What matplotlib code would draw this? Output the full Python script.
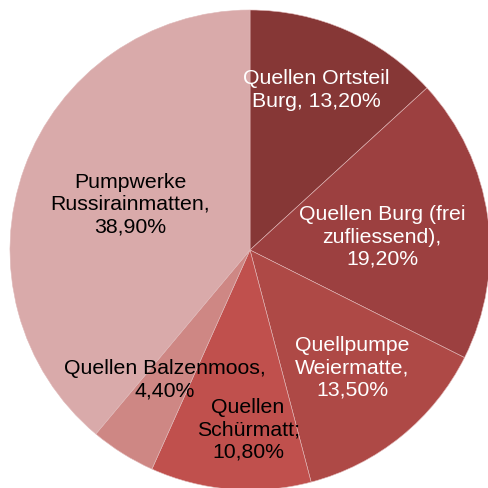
import matplotlib.pyplot as plt

names = ["Quellen Ortsteil\nBurg", "Quellen Burg (frei\nzufliessend)", "Quellpumpe\nWeiermatte",
         "Quellen\nSchürmatt", "Quellen Balzenmoos", "Pumpwerke\nRussirainmatten"]
seps = [", ", ",\n", ",\n", ";\n", ",\n", ",\n"]
shares = [13.20, 19.20, 13.50, 10.80, 4.40, 38.90]
colors = ["#863736", "#9c4040", "#ae4946", "#c0504d", "#ce8784", "#d9aaaa"]
text_colors = ["white", "white", "white", "black", "black", "black"]
label_pos = [(0.275, 0.667), (0.55, 0.054), (0.425, -0.49), (-0.008, -0.75), (-0.354, -0.54), (-0.5, 0.19)]

plt.rcParams['font.family'] = ['Liberation Sans', 'DejaVu Sans']
fig = plt.figure(figsize=(4.88, 4.88), dpi=100)
ax = fig.add_axes([0, 0, 1, 1])
r = 240
ax.pie(shares, colors=colors, startangle=90, counterclock=False, radius=1,
       wedgeprops=dict(edgecolor="#e0b8b8", linewidth=0.4))
for name, sep, v, c, (x, y) in zip(names, seps, shares, text_colors, label_pos):
    txt = name + sep + f"{v:.2f}%".replace(".", ",")
    ax.text(x, y, txt, ha="center", va="center", color=c, fontsize=15.3, linespacing=1.22)
ax.set_xlim(-250 / r, 238 / r)
ax.set_ylim(-238 / r, 250 / r)
ax.set_aspect("equal")
ax.axis("off")
fig.savefig("out.png", dpi=100)
